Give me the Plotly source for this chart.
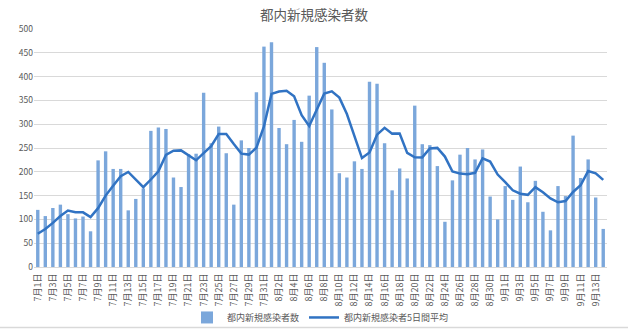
import plotly.graph_objects as go

months = [7] * 31 + [8] * 31 + [9] * 14
days = list(range(1, 32)) + list(range(1, 32)) + list(range(1, 15))
dates = [f"{m}月{d}日" for m, d in zip(months, days)]

cases = [120, 107, 124, 131, 111, 102, 106, 75, 224, 243, 206, 206, 119, 143, 165, 286,
         293, 290, 188, 168, 237, 238, 366, 260, 295, 239, 131, 266, 250, 367, 463,
         472, 292, 258, 309, 263, 360, 462, 429, 331, 197, 188, 222, 206, 389, 385,
         260, 161, 207, 186, 339, 258, 256, 212, 95, 182, 236, 250, 226, 247, 148, 100,
         170, 141, 211, 136, 181, 116, 77, 170, 149, 276, 187, 226, 146, 80]

avg5 = [69.8, 79.8, 92.6, 107.2, 118.6, 115.0, 114.8, 105.0, 123.6, 150.0, 170.8, 190.8,
        199.6, 183.4, 167.8, 183.8, 201.2, 235.4, 244.4, 245.0, 235.2, 224.2, 239.4,
        253.8, 279.2, 279.6, 258.2, 238.2, 236.2, 250.6, 295.4,
        363.6, 368.8, 370.4, 358.8, 318.8, 296.4, 330.4, 364.6, 369.0, 355.8, 321.4,
        273.4, 228.8, 240.4, 278.0, 292.4, 280.2, 280.4, 239.8, 230.6, 230.2, 249.2,
        250.2, 232.0, 200.6, 196.2, 195.0, 197.8, 228.2, 221.4, 194.2,
        178.2, 161.2, 154.0, 151.6, 167.8, 157.0, 144.2, 136.0, 138.6, 157.6, 171.8,
        201.6, 196.8, 183.0]

tick_labels = dates[::2]

FONT = "Noto Sans CJK JP"
GREY = "#595959"

fig = go.Figure()
fig.add_trace(go.Bar(x=dates, y=cases, name="都内新規感染者数",
                     marker=dict(color="#7BA7DB", line=dict(width=0))))
fig.add_trace(go.Scatter(x=dates, y=avg5, name="都内新規感染者5日間平均", mode="lines",
                         line=dict(color="#3173C3", width=2.5)))

fig.update_layout(
    width=628, height=329,
    margin=dict(l=34, r=21, t=29, b=62, autoexpand=False),
    paper_bgcolor="white", plot_bgcolor="white",
    font=dict(family=FONT, color=GREY, size=9),
    title=dict(text="都内新規感染者数", x=0.5, xanchor="center", y=0.955, yanchor="middle",
               font=dict(family=FONT, size=13.5, color=GREY)),
    bargap=0.55,
    showlegend=True,
    legend=dict(orientation="h", x=0.5, xanchor="center", y=-0.212, yanchor="middle",
                font=dict(family=FONT, size=9, color=GREY), traceorder="normal",
                itemwidth=30, bgcolor="rgba(0,0,0,0)"),
    shapes=[dict(type="line", xref="paper", yref="paper",
                 x0=-0.06, x1=1.04, y0=-0.254, y1=-0.254,
                 line=dict(color="#d9d9d9", width=1.5))],
)
fig.update_xaxes(type="category", tickmode="array", tickvals=tick_labels, ticktext=tick_labels,
                 tickangle=-90, tickfont=dict(size=9, color=GREY, family=FONT),
                 showgrid=False, showline=True, linecolor="#d9d9d9",
                 ticks="outside", ticklen=2, tickcolor="rgba(0,0,0,0)",
                 automargin=False)
fig.update_yaxes(range=[0, 500], dtick=50, showgrid=True, gridcolor="#d9d9d9", gridwidth=1,
                 zeroline=False, showline=False, ticks="", ticklen=0, automargin=False,
                 tickfont=dict(size=8.5, color=GREY, family=FONT))

fig.write_html("out.html")
